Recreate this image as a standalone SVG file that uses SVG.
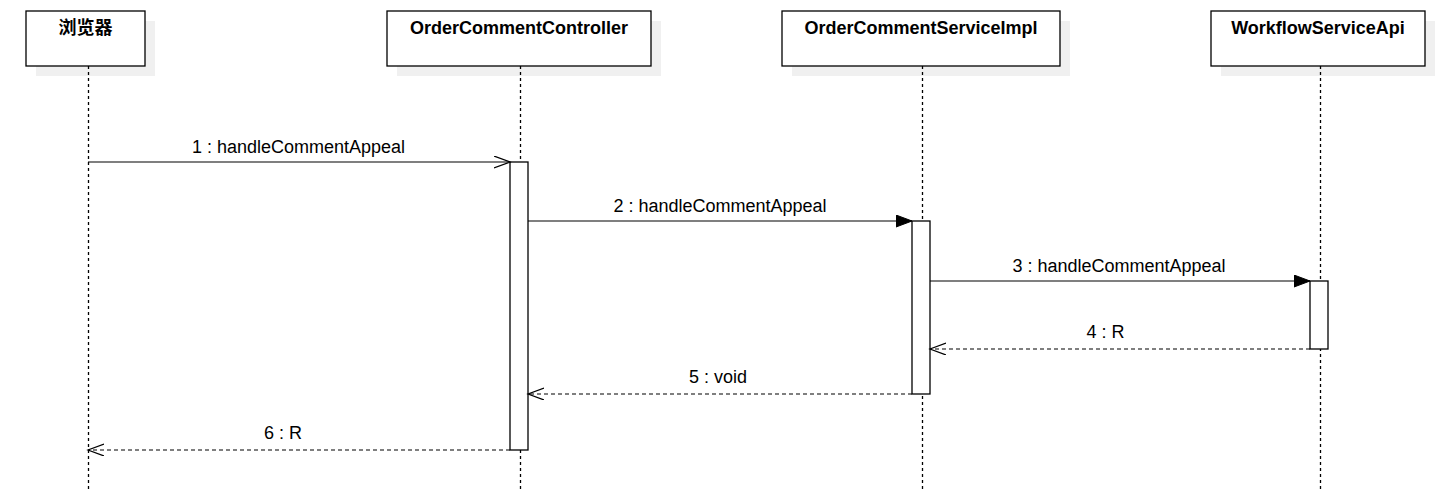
<svg xmlns="http://www.w3.org/2000/svg" width="1440" height="492" viewBox="0 0 1440 492">
  <style>
    .shadow { fill: #f0f0f0; stroke: none; }
    .head { fill: #ffffff; stroke: #000000; stroke-width: 1.3; }
    .title { font-family: "Liberation Sans", "Noto Sans CJK SC", Arial, sans-serif; font-size: 18px; font-weight: bold; fill: #000000; text-anchor: middle; }
    .life { stroke: #000000; stroke-width: 1.3; stroke-dasharray: 3 3; fill: none; }
    .act { fill: #ffffff; stroke: #000000; stroke-width: 1.3; }
    .msg { stroke: #000000; stroke-width: 1.2; fill: none; }
    .ret { stroke: #000000; stroke-width: 1.2; fill: none; stroke-dasharray: 4 3; }
    .label { font-family: "Liberation Sans", Arial, sans-serif; font-size: 18px; fill: #000000; text-anchor: middle; }
  </style>
  <defs>
    <marker id="open" markerWidth="18" markerHeight="14" refX="16" refY="6" orient="auto" markerUnits="userSpaceOnUse">
      <path d="M0,0 L16,6 L0,12" fill="none" stroke="#000" stroke-width="1.2"/>
    </marker>
    <marker id="solid" markerWidth="18" markerHeight="14" refX="16" refY="6" orient="auto" markerUnits="userSpaceOnUse">
      <path d="M0,0 L16,6 L0,12 Z" fill="#000" stroke="#000" stroke-width="1"/>
    </marker>
  </defs>

  <rect width="1440" height="492" fill="#ffffff"/>

  <!-- drop shadows behind the participant heads -->
  <g id="shadows">
    <rect class="shadow" x="36" y="21" width="119" height="55"/>
    <rect class="shadow" x="397" y="21" width="264" height="55"/>
    <rect class="shadow" x="792" y="21" width="278" height="55"/>
    <rect class="shadow" x="1221" y="21" width="214" height="55"/>
  </g>

  <!-- lifelines -->
  <g id="lifelines">
    <line class="life" x1="88.5" y1="66" x2="88.5" y2="492"/>
    <line class="life" x1="520.5" y1="66" x2="520.5" y2="492"/>
    <line class="life" x1="922.5" y1="66" x2="922.5" y2="492"/>
    <line class="life" x1="1320.5" y1="66" x2="1320.5" y2="492"/>
  </g>

  <g id="browser">
    <rect class="head" x="26" y="11" width="119" height="55"/>
    <text class="title" x="85.5" y="34">浏览器</text>
  </g>

  <g id="controller">
    <rect class="head" x="387" y="11" width="264" height="55"/>
    <text class="title" x="519" y="34">OrderCommentController</text>
    <rect class="act" x="510" y="162" width="18" height="288"/>
  </g>

  <g id="serviceImpl">
    <rect class="head" x="782" y="11" width="278" height="55"/>
    <text class="title" x="921" y="34">OrderCommentServiceImpl</text>
    <rect class="act" x="912" y="221" width="18" height="173"/>
  </g>

  <g id="workflowApi">
    <rect class="head" x="1211" y="11" width="214" height="55"/>
    <text class="title" x="1318" y="34">WorkflowServiceApi</text>
    <rect class="act" x="1310" y="281" width="18" height="68"/>
  </g>

  <!-- messages -->
  <g id="connectors">
    <line class="msg" x1="88" y1="162" x2="510" y2="162" marker-end="url(#open)"/>
    <text class="label" x="298.5" y="153">1 : handleCommentAppeal</text>

    <line class="msg" x1="528" y1="221" x2="912" y2="221" marker-end="url(#solid)"/>
    <text class="label" x="720" y="212">2 : handleCommentAppeal</text>

    <line class="msg" x1="930" y1="281" x2="1310" y2="281" marker-end="url(#solid)"/>
    <text class="label" x="1119" y="272">3 : handleCommentAppeal</text>

    <line class="ret" x1="1310" y1="349" x2="930" y2="349" marker-end="url(#open)"/>
    <text class="label" x="1105.5" y="338">4 : R</text>

    <line class="ret" x1="912" y1="394" x2="528" y2="394" marker-end="url(#open)"/>
    <text class="label" x="718" y="383">5 : void</text>

    <line class="ret" x1="510" y1="450" x2="88" y2="450" marker-end="url(#open)"/>
    <text class="label" x="283" y="439">6 : R</text>
  </g>
</svg>
